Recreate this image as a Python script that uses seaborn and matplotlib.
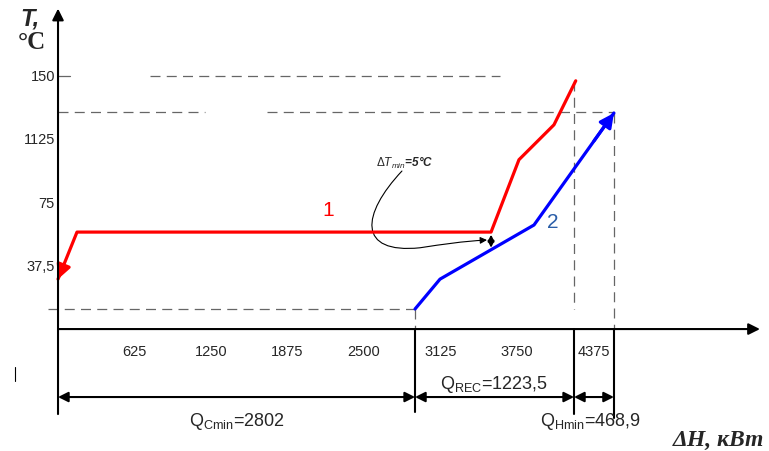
import numpy as np
import pandas as pd
import seaborn as sns
import matplotlib.pyplot as plt
from matplotlib.path import Path
from matplotlib.patches import FancyArrowPatch

# --------------------------
# Data
# --------------------------
# hot stream 1, drawn from the top end down to the arrow tip
hot_q = [4230, 4052, 3766, 3538, 155, 0]
hot_t = [147.2, 121.1, 100.4, 57.5, 57.5, 29.6]
# cold stream 2, arrow at the last point
cold_q = [2917, 3121, 3889, 4542]
cold_t = [11.9, 29.6, 61.7, 128.1]

x_ticks = [625, 1250, 1875, 2500, 3125, 3750, 4375]
x_tick_labels = ["625", "1250", "1875", "2500", "3125", "3750", "4375"]
y_ticks = [150, 112.5, 75, 37.5]
y_tick_labels = ["150", "1125", "75", "37,5"]

q_cmin_end = 2917     # where the Q_Cmin span ends on the axis
q_rec_end = 4216      # end of Q_REC
q_hmin_end = 4542     # end of Q_Hmin
q_labels = ["Q$_{\\mathrm{Cmin}}$=2802", "Q$_{\\mathrm{REC}}$=1223,5",
            "Q$_{\\mathrm{Hmin}}$=468,9"]

# --------------------------
# Style
# --------------------------
sns.set_theme(style="white")
plt.rcParams['font.family'] = ['Liberation Sans', 'DejaVu Sans']
plt.rcParams['mathtext.fontset'] = 'custom'
plt.rcParams['mathtext.rm'] = 'Liberation Sans'
plt.rcParams['mathtext.it'] = 'Liberation Sans:italic'
plt.rcParams['mathtext.bf'] = 'Liberation Sans:bold'

fig = plt.figure(figsize=(7.69, 4.52), dpi=100)
ax = fig.add_axes([0, 0, 1, 1])
ax.set_xlim(-474, 5809)
ax.set_ylim(-72.3, 195.7)
ax.axis('off')

dash = dict(color='#666666', lw=0.9, ls=(0, (8, 5)))

# dashed guide lines
ax.plot([0, 100], [150, 150], color='#666666', lw=0.9)
ax.plot([752, 3611], [150, 150], **dash)
ax.plot([0, 1201], [128.7, 128.7], **dash)
ax.plot([1708, q_hmin_end], [128.7, 128.7], **dash)
ax.plot([q_rec_end, q_rec_end], [147, 11.9], **dash)
ax.plot([q_hmin_end, q_hmin_end], [128.1, 0], **dash)
ax.plot([-82, q_cmin_end], [11.9, 11.9], **dash)
ax.plot([q_cmin_end, q_cmin_end], [11.9, 0], **dash)

# --------------------------
# Streams
# --------------------------
hot = pd.DataFrame({"q": hot_q, "t": hot_t})
cold = pd.DataFrame({"q": cold_q, "t": cold_t})
sns.lineplot(data=hot, x="q", y="t", sort=False, color='#ff0000', lw=2.3, ax=ax)
sns.lineplot(data=cold, x="q", y="t", sort=False, color='#0000ff', lw=2.3, ax=ax)

def arrow_head(q, t, color):
    ax.annotate('', xy=(q[-1], t[-1]),
                xytext=(q[-1] + 0.25 * (q[-2] - q[-1]), t[-1] + 0.25 * (t[-2] - t[-1])),
                arrowprops=dict(arrowstyle='-|>', color=color, lw=2.3,
                                mutation_scale=21, shrinkA=0, shrinkB=0))

arrow_head(hot_q, hot_t, '#ff0000')
arrow_head(cold_q, cold_t, '#0000ff')

ax.text(2206, 71, "1", color='#ff0000', fontsize=15, ha='center', va='center')
ax.text(4044, 64, "2", color='#2b5ea8', fontsize=15, ha='center', va='center')

# --------------------------
# Axes with arrows
# --------------------------
axis_arrow = dict(arrowstyle='-|>', color='black', lw=1.5, mutation_scale=17,
                  shrinkA=0, shrinkB=0)
ax.annotate('', xy=(0, 190), xytext=(0, -50.4), arrowprops=axis_arrow)
ax.annotate('', xy=(5735, 0), xytext=(0, 0), arrowprops=axis_arrow)

for x, t_low in [(q_cmin_end, -49.2), (q_rec_end, -50.4), (q_hmin_end, -52.8)]:
    ax.plot([x, x], [0, t_low], color='black', lw=1.5)

for x, lab in zip(x_ticks, x_tick_labels):
    ax.text(x, -13, lab, fontsize=10.5, ha='center', va='center')
for y, lab in zip(y_ticks, y_tick_labels):
    ax.text(-25, y, lab, fontsize=10.5, ha='right', va='center')

# small stray mark on the left
ax.plot([-351, -351], [-22.5, -30.8], color='black', lw=0.8)

# --------------------------
# Dimension arrows
# --------------------------
dim = dict(arrowstyle='<|-|>', color='black', lw=1.5, mutation_scale=15,
           shrinkA=0, shrinkB=0)
ax.annotate('', xy=(0, -40.3), xytext=(q_cmin_end, -40.3), arrowprops=dim)
ax.annotate('', xy=(q_cmin_end, -40.3), xytext=(q_rec_end, -40.3), arrowprops=dim)
ax.annotate('', xy=(q_rec_end, -40.3), xytext=(q_hmin_end, -40.3), arrowprops=dim)

ax.text(1462, -54.5, q_labels[0], fontsize=13, ha='center', va='center')
ax.text(3562, -32, q_labels[1], fontsize=13, ha='center', va='center')
ax.text(4350, -54.5, q_labels[2], fontsize=13, ha='center', va='center')

# --------------------------
# dT_min note
# --------------------------
ax.text(2835, 99, "$\\Delta\\mathbf{\\mathit{T}}_{\\mathit{min}}$=5°C", fontsize=8.5,
        fontweight='bold', fontstyle='italic', ha='center', va='center')
verts = [(2810, 93.7), (2480, 68.2), (2440, 44.4), (2958, 48.2),
         (3150, 50.3), (3300, 52.0), (3505, 52.8)]
codes = [Path.MOVETO, Path.CURVE4, Path.CURVE4, Path.CURVE4,
         Path.CURVE4, Path.CURVE4, Path.CURVE4]
ax.add_patch(FancyArrowPatch(path=Path(verts, codes), arrowstyle='-|>',
                             mutation_scale=10, color='black', lw=0.8))
ax.annotate('', xy=(3538, 48.2), xytext=(3538, 56),
            arrowprops=dict(arrowstyle='<|-|>', color='black', lw=1.4,
                            mutation_scale=9, shrinkA=0, shrinkB=0))

# --------------------------
# Axis titles
# --------------------------
fig.text(0.039, 0.958, "T,", fontsize=17, fontweight='bold', fontstyle='italic',
         ha='center', va='center')
fig.text(0.042, 0.905, "°C", fontsize=18, fontweight='bold', family='Liberation Serif',
         ha='center', va='center')
fig.text(0.934, 0.025, "ΔH, кВт", fontsize=17, fontweight='bold', fontstyle='italic',
         family='Liberation Serif', ha='center', va='center')

fig.savefig('out.png', dpi=100)
